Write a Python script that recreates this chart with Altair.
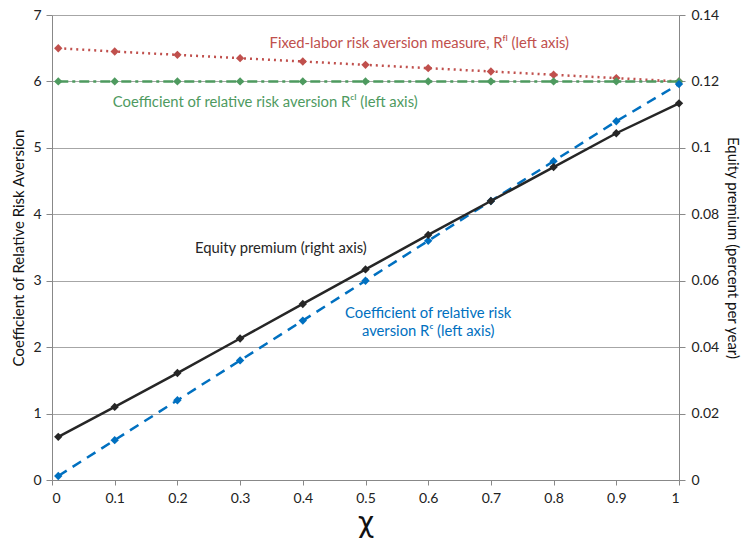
import altair as alt
import pandas as pd

chi = [0.01, 0.1, 0.2, 0.3, 0.4, 0.5, 0.6, 0.7, 0.8, 0.9, 1.0]
r_fl = [6.5, 6.45, 6.4, 6.35, 6.3, 6.25, 6.2, 6.15, 6.1, 6.05, 6.0]
r_cl = [6.0, 6.0, 6.0, 6.0, 6.0, 6.0, 6.0, 6.0, 6.0, 6.0, 6.0]
r_c = [0.06, 0.6, 1.2, 1.8, 2.4, 3.0, 3.6, 4.2, 4.8, 5.4, 5.96]
equity = [0.013, 0.022, 0.0322, 0.0426, 0.053, 0.0634, 0.0738, 0.084, 0.0942, 0.1044, 0.1134]

ann_text = [
    "Fixed-labor risk aversion measure, R\u1da0\u02e1 (left axis)",
    "Coefficient of relative risk aversion R\u1d9c\u02e1 (left axis)",
    "Equity premium (right axis)",
    "Coefficient of relative risk",
    "aversion R\u1d9c (left axis)",
]
ann_x = [0.347, 0.097, 0.228, 0.6, 0.6]
ann_y = [6.56, 5.68, 3.47, 2.5, 2.23]
ann_color = ["#c0504d", "#4e9a5f", "#262626", "#0070c0", "#0070c0"]
ann_align = ["left", "left", "left", "center", "center"]

FONT = "Lato"

df = pd.DataFrame({"chi": chi, "rfl": r_fl, "rcl": r_cl, "rc": r_c, "eq": equity})

xenc = alt.X(
    "chi:Q",
    scale=alt.Scale(domain=[0, 1], nice=False),
    axis=alt.Axis(
        values=[0, 0.1, 0.2, 0.3, 0.4, 0.5, 0.6, 0.7, 0.8, 0.9, 1.0],
        format="~g",
        title="\u03c7",
        titleFontSize=28,
        titleFont="DejaVu Sans",
        titleFontWeight="normal",
        titleColor="#111111",
        titlePadding=4,
        labelFontSize=14,
        labelFont=FONT,
        labelColor="#222222",
        labelPadding=6,
        grid=False,
        domainColor="#888888",
        tickColor="#888888",
        tickSize=5,
    ),
)

left_scale = alt.Scale(domain=[0, 7], nice=False)
left_axis = alt.Axis(
    values=[0, 1, 2, 3, 4, 5, 6, 7],
    format="d",
    title="Coefficient of Relative Risk Aversion",
    titleFontSize=15,
    titleFont=FONT,
    titleFontWeight="normal",
    titleColor="#111111",
    titlePadding=6,
    labelFontSize=14,
    labelFont=FONT,
    labelColor="#222222",
    labelPadding=5,
    grid=True,
    gridColor="#a6a6a6",
    domainColor="#888888",
    tickColor="#888888",
    tickSize=6,
)

def series(col, color, dash, width):
    base = alt.Chart(df).encode(
        x=xenc,
        y=alt.Y(f"{col}:Q", scale=left_scale, axis=left_axis),
    )
    line = base.mark_line(color=color, strokeDash=dash, strokeWidth=width)
    pts = base.mark_point(shape="diamond", filled=True, color=color, size=70, opacity=1)
    return line + pts

red = series("rfl", "#c0504d", [2, 4], 2.5)
green = series("rcl", "#4e9a5f", [10, 4, 3, 4], 2.5)
blue = series("rc", "#0070c0", [10, 7], 2.5)

ann_df = pd.DataFrame({"x": ann_x, "y": ann_y, "t": ann_text})
ann_layers = []
for i in range(len(ann_text)):
    ann_layers.append(
        alt.Chart(ann_df.iloc[[i]]).mark_text(
            fontSize=14.8, font=FONT, align=ann_align[i], baseline="middle", color=ann_color[i]
        ).encode(
            x=alt.X("x:Q", scale=alt.Scale(domain=[0, 1], nice=False)),
            y=alt.Y("y:Q", scale=left_scale),
            text="t:N",
        )
    )

left = alt.layer(red, green, blue, *ann_layers)

eq_base = alt.Chart(df).encode(
    x=xenc,
    y=alt.Y(
        "eq:Q",
        scale=alt.Scale(domain=[0, 0.14], nice=False),
        axis=alt.Axis(
            orient="right",
            values=[0, 0.02, 0.04, 0.06, 0.08, 0.1, 0.12, 0.14],
            format="~g",
            title="Equity premium (percent per year)",
            titleFontSize=15,
            titleFont=FONT,
            titleFontWeight="normal",
            titleColor="#111111",
            titlePadding=6,
            labelFontSize=14,
            labelFont=FONT,
            labelColor="#222222",
            labelPadding=6,
            grid=False,
            domainColor="#888888",
            tickColor="#888888",
            tickSize=6,
        ),
    ),
)
eq = eq_base.mark_line(color="#262626", strokeWidth=2.5) + eq_base.mark_point(
    shape="diamond", filled=True, color="#262626", size=70, opacity=1
)

chart = (
    alt.layer(left, eq)
    .resolve_scale(y="independent")
    .properties(
        width=627,
        height=465,
        autosize=alt.AutoSizeParams(type="none"),
        padding={"left": 52, "top": 15, "right": 64, "bottom": 66},
        background="white",
    )
    .configure_view(stroke=None)
)

chart.save("out.html", embed_options={"renderer": "svg", "actions": False})
